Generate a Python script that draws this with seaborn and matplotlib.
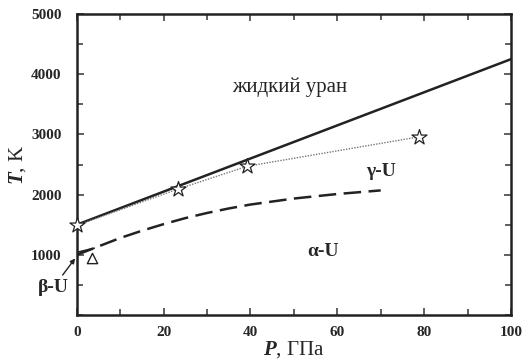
import matplotlib
matplotlib.use("Agg")
import matplotlib.pyplot as plt
import seaborn as sns

# линия плавления
melt_p = [0, 100]
melt_t = [1500, 4250]
# экспериментальные точки (звёзды)
star_p = [0, 23.2, 39.2, 78.8]
star_t = [1490, 2090, 2470, 2960]
# граница альфа-гамма (пунктир)
ag_p = [0, 5, 10, 15, 20, 25, 30, 35, 40, 50, 60, 70]
ag_t = [1000, 1140, 1280, 1400, 1510, 1610, 1695, 1770, 1835, 1935, 2010, 2070]
# граница бета
beta_p = [0, 4]
beta_t = [1040, 1110]
tri_p = [3.6]
tri_t = [940]

sns.set_style('ticks')
plt.rcParams['font.family'] = ['Liberation Serif', 'DejaVu Serif']
plt.rcParams['mathtext.fontset'] = 'custom'
plt.rcParams['mathtext.it'] = 'Liberation Serif:italic:bold'

fig = plt.figure(figsize=(5.3, 3.6), dpi=100)
ax = fig.add_axes([0.145, 0.125, 0.819, 0.836])

sns.lineplot(x=melt_p, y=melt_t, ax=ax, color='#222222', lw=1.8)
sns.lineplot(x=star_p, y=star_t, ax=ax, color='#777777', lw=1.0,
             linestyle=(0, (1, 1)))
sns.lineplot(x=ag_p, y=ag_t, ax=ax, color='#222222', lw=1.8,
             linestyle=(0, (7, 3)))
sns.lineplot(x=beta_p, y=beta_t, ax=ax, color='#222222', lw=1.2)
sns.scatterplot(x=star_p, y=star_t, ax=ax, marker='*', s=130,
                facecolor='white', edgecolor='#222222', linewidth=0.9,
                zorder=5, clip_on=False)
sns.scatterplot(x=tri_p, y=tri_t, ax=ax, marker='^', s=55,
                facecolor='white', edgecolor='#222222', linewidth=1.0,
                zorder=5)

ax.set_xlim(0, 100)
ax.set_ylim(0, 5000)
ax.set_xticks([0, 20, 40, 60, 80, 100])
ax.set_xticks(range(0, 101, 10), minor=True)
ax.set_yticks([1000, 2000, 3000, 4000, 5000])
ax.set_yticks(range(0, 5001, 500), minor=True)
ax.tick_params(which='both', direction='in', top=True, right=True,
               width=1.2, color='#444444')
ax.tick_params(which='major', length=5, labelsize=11)
ax.tick_params(axis='y', which='major', pad=11)
ax.tick_params(axis='x', which='major', pad=8)
ax.tick_params(which='minor', length=4)
for lab in ax.get_xticklabels() + ax.get_yticklabels():
    lab.set_fontweight('bold')
for sp in ax.spines.values():
    sp.set_linewidth(1.8)
    sp.set_color('#222222')

ax.text(49, 3780, 'жидкий уран', fontsize=15, ha='center', va='center')
ax.text(70, 2380, 'γ-U', fontsize=14, fontweight='bold', ha='center', va='center')
ax.text(56.7, 1050, 'α-U', fontsize=14, fontweight='bold', ha='center', va='center')
ax.annotate('β-U', xy=(-0.4, 940), xytext=(-5.5, 450), fontsize=14,
            fontweight='bold', ha='center', va='center', annotation_clip=False,
            arrowprops=dict(arrowstyle='-|>', color='#222222', lw=1.0,
                            shrinkA=1, shrinkB=0, mutation_scale=7))

ax.set_xlabel('$P$, ГПа', fontsize=15, labelpad=0)
ax.set_ylabel('$T$, K', fontsize=15, labelpad=2)

fig.savefig('out.png', dpi=100)
